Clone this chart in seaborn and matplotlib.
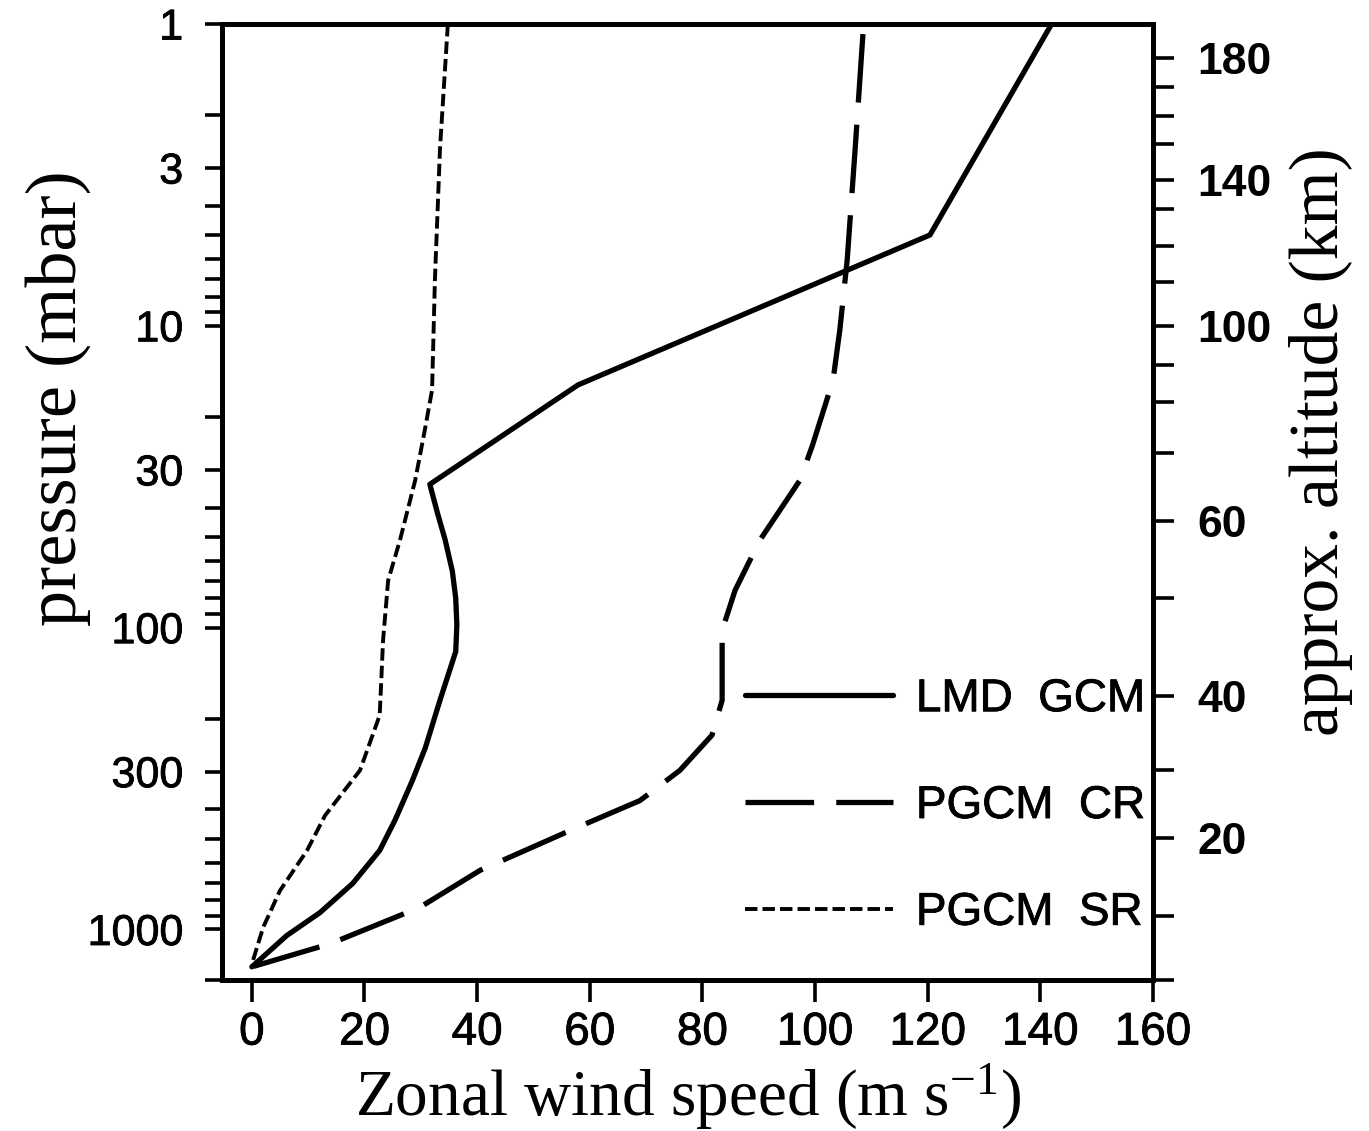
import matplotlib
matplotlib.use("Agg")
import matplotlib.pyplot as plt
import matplotlib.ticker as mticker
import matplotlib.patheffects as pe
import seaborn as sns

# ---------------- data ----------------
lmd_pressure = [1, 5, 15.7, 33.5, 42, 51, 65, 80, 98, 120, 174, 250, 321, 435, 547, 704, 879, 1047, 1330]
lmd_speed = [142, 120.4, 57.9, 31.6, 33.0, 34.3, 35.6, 36.2, 36.4, 36.2, 33.4, 30.8, 28.5, 25.4, 22.7, 17.9, 12.1, 6.2, 0]

cr_pressure = [1.08, 2.62, 6.06, 10.3, 15.1, 18.3, 25, 32.5, 51.3, 75.2, 102, 174, 227, 297, 374, 470, 637, 845, 1115, 1330]
cr_speed = [108.5, 107.1, 105.7, 104.4, 103.2, 101.8, 99.5, 97.3, 90.2, 85.8, 83.5, 83.5, 81.7, 76, 68.9, 56.5, 40.5, 29.8, 13.9, 0]

sr_pressure = [1, 2.6, 7.06, 16.3, 22.2, 32.5, 51.3, 69.7, 110, 195, 297, 419, 547, 743, 985, 1267, 1330]
sr_speed = [34.8, 33.4, 32.5, 32.0, 30.7, 29.0, 26.3, 24.2, 23.3, 22.7, 19.2, 13.0, 9.8, 5.0, 2.0, 0.2, 0]

series_labels = ["LMD  GCM", "PGCM  CR", "PGCM  SR"]

pressure_ticks = [1, 3, 10, 30, 100, 300, 1000]
pressure_ticklabels = ["1", "3", "10", "30", "100", "300", "1000"]
pressure_bottom = 1470
pressure_top = 1

speed_ticks = [0, 20, 40, 60, 80, 100, 120, 140, 160]

alt_km = [0, 10, 20, 30, 40, 50, 60, 70, 80, 90, 100, 110, 120, 130, 140, 150, 160, 170, 180]
alt_pressure = [1470, 899, 499, 297, 168, 80, 44.4, 26.4, 17.9, 13.5, 10.0, 7.17, 5.44, 4.1, 3.29, 2.5, 2.02, 1.62, 1.3]
alt_labelled = [20, 40, 60, 100, 140, 180]

# ---------------- style ----------------
sns.set_style("white")
plt.rcParams["font.family"] = ["Liberation Sans", "DejaVu Sans"]
plt.rcParams["mathtext.default"] = "regular"
for k in ["text.color", "axes.labelcolor", "xtick.color", "ytick.color", "axes.edgecolor"]:
    plt.rcParams[k] = "black"

W, H = 1369, 1131
fig = plt.figure(figsize=(W / 100, H / 100), dpi=100)
L, R, T, B = 222, 1153, 24, 980
ax = fig.add_axes([L / W, 1 - B / H, (R - L) / W, (B - T) / H])

lw_main = 3.8
sns.lineplot(x=lmd_speed, y=lmd_pressure, sort=False, estimator=None, ax=ax,
             color="black", linewidth=lw_main, linestyle="-")
sns.lineplot(x=cr_speed, y=cr_pressure, sort=False, estimator=None, ax=ax,
             color="black", linewidth=lw_main, linestyle=(0, (13, 4.2)))
sns.lineplot(x=sr_speed, y=sr_pressure, sort=False, estimator=None, ax=ax,
             color="black", linewidth=2.8, linestyle=(0, (3.2, 1.3)))

ax.set_yscale("log")
ax.set_ylim(pressure_bottom, pressure_top)
ax.set_xlim(-5.3, 160)

ax.set_yticks(pressure_ticks)
ax.set_yticklabels(pressure_ticklabels)
minor = [m * 10 ** e for e in range(0, 3) for m in range(2, 10)] + [pressure_bottom]
ax.yaxis.set_minor_locator(mticker.FixedLocator(minor))
ax.yaxis.set_minor_formatter(mticker.NullFormatter())
ax.set_xticks(speed_ticks)
ax.set_xticklabels([str(v) for v in speed_ticks])
ax.xaxis.set_minor_locator(mticker.NullLocator())

for s in ax.spines.values():
    s.set_linewidth(3.5)
    s.set_color("black")

ax.tick_params(axis="y", which="both", direction="out", length=12, width=2.6,
               labelsize=31, pad=16, left=True, right=False, color="black", labelcolor="black")
ax.tick_params(axis="x", which="both", direction="out", length=16, width=2.6,
               labelsize=33, pad=6, bottom=True, top=False, color="black", labelcolor="black")

thick = [pe.withStroke(linewidth=0.6, foreground="black")]
for t in ax.get_xticklabels() + ax.get_yticklabels():
    t.set_path_effects(thick)

# right altitude axis
tw = ax.twinx()
tw.set_yscale("log")
tw.set_ylim(pressure_bottom, pressure_top)
tw.set_yticks(alt_pressure)
tw.set_yticklabels([str(a) if a in alt_labelled else "" for a in alt_km],
                   fontfamily="Liberation Sans", fontweight="bold", fontsize=32)
tw.yaxis.set_minor_locator(mticker.NullLocator())
tw.tick_params(axis="y", which="both", direction="out", length=15, width=2.6,
               pad=17, right=True, left=False, color="black", labelcolor="black")
for s in tw.spines.values():
    s.set_linewidth(3.5)
    s.set_color("black")

# axis labels
ax.set_xlabel("Zonal wind speed (m s$^{-1}$)", family="Liberation Serif", size=47,
              va="center", ha="center")
ax.xaxis.set_label_coords(0.5, (B - 1097) / (B - T))
ax.set_ylabel("pressure (mbar)", family="Liberation Serif", size=52, va="center", ha="center")
ax.yaxis.set_label_coords((58 - L) / (R - L), (B - 398) / (B - T))
tw.set_ylabel("approx. altitude (km)", family="Liberation Serif", size=50, va="center", ha="center")
tw.yaxis.set_label_coords((1321 - L) / (R - L), (B - 442) / (B - T))

# legend
handles = ax.get_lines()[:3]
leg = ax.legend(handles, series_labels, loc="center left",
                bbox_to_anchor=((745 - L) / (R - L), (B - 806) / (B - T)),
                frameon=False, handlelength=3.23, handletextpad=0.5,
                labelspacing=1.37, borderpad=0, borderaxespad=0,
                prop={"family": "Liberation Sans", "size": 33})
for t in leg.get_texts():
    t.set_color("black")
    t.set_path_effects(thick)

fig.savefig("out.png", dpi=100, facecolor="white")
